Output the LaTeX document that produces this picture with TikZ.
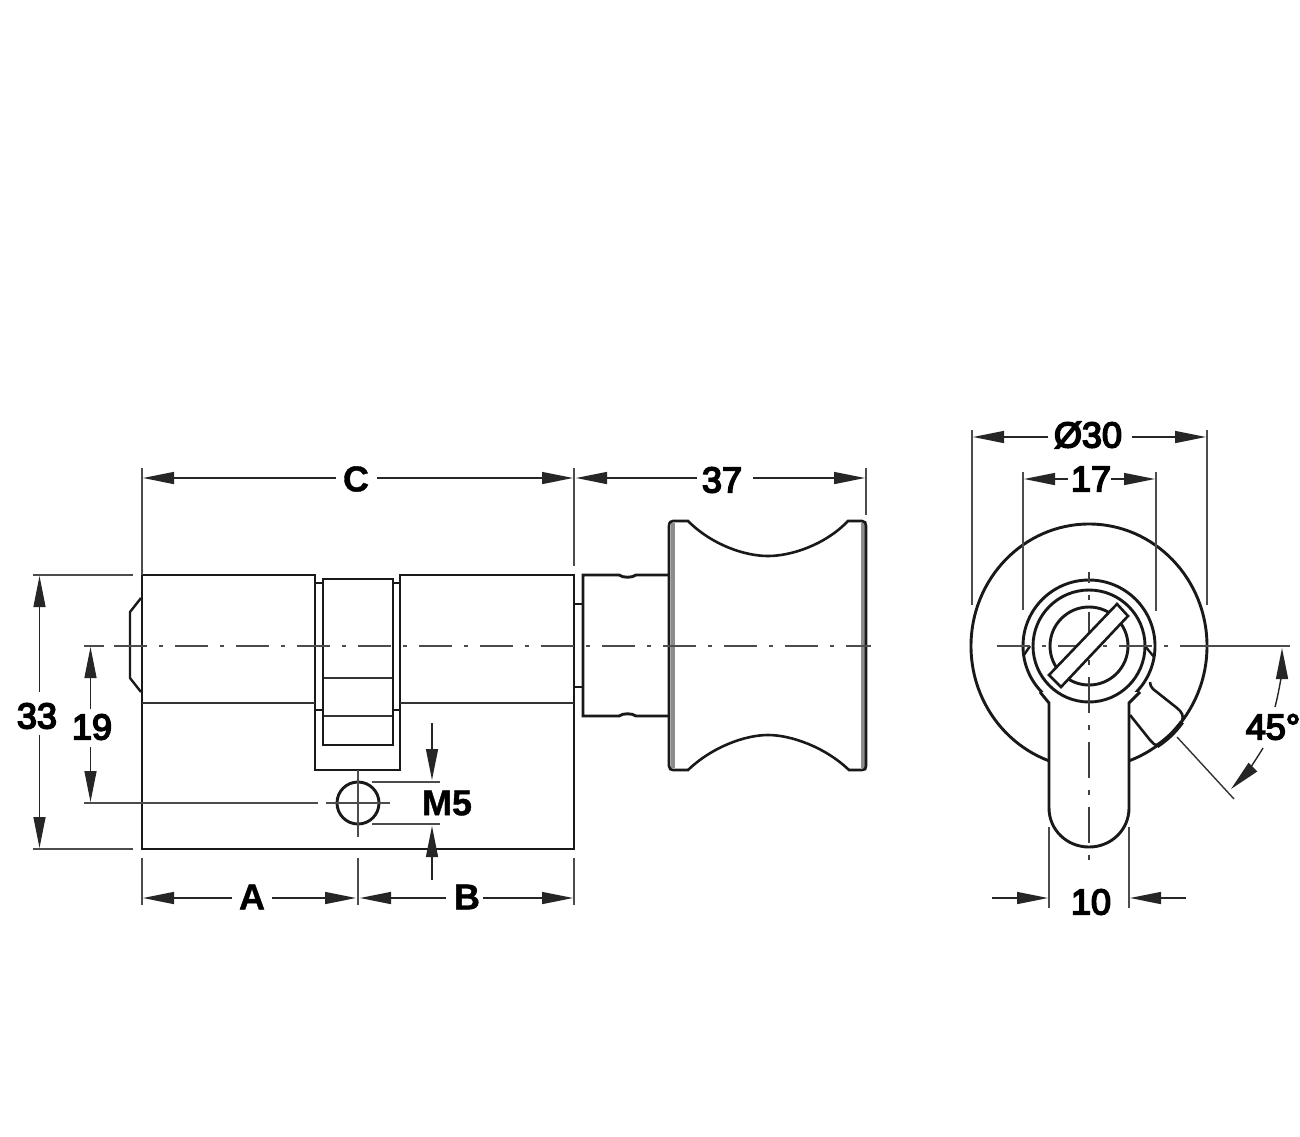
\documentclass[tikz,border=0pt]{standalone}
\usepackage{fontspec}
\setmainfont{Liberation Sans}
\newfontfamily\numfont{Liberation Sans}[RawFeature={embolden=4.5}]
\newfontfamily\boldfont{Liberation Sans Bold}[RawFeature={embolden=1}]
\usetikzlibrary{arrows.meta}
\tikzset{
  outline/.style={line width=2.9pt,black!90,line join=miter},
  thinline/.style={line width=1.4pt,black!80},
  extline/.style={line width=1.4pt,black!70},
  centerline/.style={line width=1.4pt,black!70,dash pattern=on 33pt off 12pt on 4pt off 12pt},
  centerv/.style={line width=1.4pt,black!75,dash pattern=on 36pt off 12pt on 5pt off 12pt,dash phase=25pt},
  dimline/.style={line width=1.4pt,black!85},
  dimarrow/.style={dimline,-{Triangle[length=31pt,width=12pt]}},
  numlabel/.style={inner sep=0pt,font=\numfont\fontsize{36}{36}\selectfont,text=black},
  letlabel/.style={inner sep=0pt,font=\boldfont\fontsize{36}{36}\selectfont,text=black}
}
\begin{document}
\begin{tikzpicture}[x=1pt,y=-1pt]
\useasboundingbox (0,0) rectangle (1300,1136);
\fill[white] (0,0) rectangle (1300,1136);

% ---------- side view: knob
\draw[line width=4pt,black!45] (673,523) -- (673,768);
\draw[line width=4pt,black!45] (863,523) -- (863,768);
\draw[outline,line width=2.6pt] (669,526) .. controls (669,522) and (671,521) .. (673,521) -- (688,521)
  .. controls (712,545) and (745,556) .. (768,556) .. controls (791,556) and (825,545) .. (848,521)
  -- (862,521) .. controls (865,521) and (866,523) .. (866,526) -- (866,766)
  .. controls (866,769) and (865,770) .. (862,770) -- (849,770)
  .. controls (825,747) and (791,735) .. (768,735) .. controls (745,735) and (712,747) .. (688,770)
  -- (673,770) .. controls (671,770) and (669,769) .. (669,766) -- cycle;
% shaft
\draw[outline] (669,575) -- (636,575) .. controls (632,578) and (623,578) .. (619,575) -- (583,575) -- (583,716)
  -- (619,716) .. controls (623,713) and (632,713) .. (636,716) -- (669,716);
\draw[outline] (574,604) -- (583,604) (574,687) -- (583,687);

% ---------- side view: body
\draw[outline] (142,575) -- (315,575) -- (315,770) -- (400,770) -- (400,575) -- (574,575) -- (574,849) -- (142,849) -- cycle;
\draw[outline] (323,579) rectangle (393,745);
\draw[outline] (315,583) -- (323,583) (393,583) -- (400,583) (315,710) -- (323,710) (393,710) -- (400,710);
\draw[thinline] (142,703) -- (315,703) (400,703) -- (574,703);
\draw[thinline] (324,678) -- (392,678) (324,716) -- (392,716);
\draw[outline,line width=2.4pt] (141,598) -- (130,612) -- (130,678) -- (141,692);
\draw[outline] (358,803) circle[radius=21];

% ---------- side view: centre lines
\draw[extline] (84,646) -- (104,646);
\draw[centerline] (114,646) -- (871,646);
\draw[extline] (84,803) -- (318,803) (326,803) -- (390,803);
\draw[extline] (358,770) -- (358,837);

% ---------- side view: extension lines
\draw[extline] (142,468) -- (142,575) (574,468) -- (574,566) (866,468) -- (866,515);
\draw[extline] (33,575) -- (133,575) (33,849) -- (133,849);
\draw[extline] (142,858) -- (142,905) (358,858) -- (358,905) (574,858) -- (574,905);
\draw[extline] (372,782) -- (440,782) (372,824) -- (440,824);

% ---------- front view
\draw[outline] (1089,646) circle[x radius=118,y radius=122];
\draw[outline,line width=2.6pt] (1150,682) .. controls (1150,685) and (1151,687) .. (1153,689) -- (1177,708)
  .. controls (1182,712) and (1184,716) .. (1182,721);
\draw[outline,line width=2.6pt] (1130,715) -- (1150,740) .. controls (1152,743) and (1155,745) .. (1158,746);
\draw[line width=4.6pt,black!90] (1182,722) .. controls (1174,733) and (1166,740) .. (1157,746);
\draw[outline,fill=white] (1089,646) circle[radius=66];
\draw[outline,fill=white] (1040,692) -- (1049,703) -- (1049,808) .. controls (1049,830) and (1067,847) .. (1089,847)
  .. controls (1111,847) and (1129,830) .. (1129,808) -- (1129,703) -- (1140,692);
\draw[outline,fill=white] (1089,646) circle[radius=56];
\draw[outline] (1089,646) circle[radius=39];
\draw[outline,line width=2.4pt] (1030,646) -- (1024,655) (1145,646) -- (1154,657);
\draw[centerline] (997,646) -- (1213,646);
\draw[extline] (1213,646) -- (1290,646);
\draw[centerv] (1089,572) -- (1089,860);
\draw[outline,fill=white,line width=2.6pt] (1117,604) -- (1128,616) -- (1061,687) -- (1049,675) -- cycle;

% ---------- front view: extension lines
\draw[extline] (972,430) -- (972,605) (1207,430) -- (1207,605);
\draw[extline] (1023,472) -- (1023,610) (1156,472) -- (1156,611);
\draw[extline] (1049,827) -- (1049,908) (1129,827) -- (1129,908);
\coordinate (e45a) at (1177,737); \coordinate (e45b) at (1234,799);
\draw[thinline] (e45a) -- (e45b);

% ---------- labels
\node[letlabel] (lC) at (356,479) {C};
\node[numlabel] (l37) at (722,480) {37};
\node[numlabel] (l33) at (37,716) {33};
\node[numlabel] (l19) at (92,727) {19};
\node[letlabel] (lM5) at (447,803) {M5};
\node[letlabel] (lA) at (252,897) {A};
\node[letlabel] (lB) at (467,897) {B};
\node[numlabel] (l30) at (1088,435) {Ø30};
\node[numlabel] (l17) at (1091,479) {17};
\node[numlabel] (l10) at (1091,902) {10};
\node[numlabel] (l45) at (1273,727) {45°};

% ---------- dimension arrows
\coordinate (cL) at (336,478); \coordinate (cR) at (377,478);
\coordinate (cT1) at (143,478); \coordinate (cT2) at (573,478);
\draw[dimarrow] (cL) -- (cT1); \draw[dimarrow] (cR) -- (cT2);
\coordinate (s1) at (697,478); \coordinate (s2) at (753,478);
\coordinate (sT1) at (576,478); \coordinate (sT2) at (865,478);
\draw[dimarrow] (s1) -- (sT1); \draw[dimarrow] (s2) -- (sT2);
\coordinate (t1) at (39.5,692); \coordinate (t2) at (39.5,735);
\coordinate (tT1) at (39.5,576); \coordinate (tT2) at (39.5,848);
\draw[dimarrow] (t1) -- (tT1); \draw[dimarrow] (t2) -- (tT2);
\coordinate (n1) at (90.5,709); \coordinate (n2) at (90.5,747);
\coordinate (nT1) at (90.5,647); \coordinate (nT2) at (90.5,802);
\draw[dimarrow] (n1) -- (nT1); \draw[dimarrow] (n2) -- (nT2);
\coordinate (a1) at (232,898); \coordinate (a2) at (272,898);
\coordinate (aT1) at (143,898); \coordinate (aT2) at (356,898);
\draw[dimarrow] (a1) -- (aT1); \draw[dimarrow] (a2) -- (aT2);
\coordinate (b1) at (446,898); \coordinate (b2) at (483,898);
\coordinate (bT1) at (360,898); \coordinate (bT2) at (573,898);
\draw[dimarrow] (b1) -- (bT1); \draw[dimarrow] (b2) -- (bT2);
\coordinate (m1) at (432,723); \coordinate (mT1) at (432,780);
\coordinate (m2) at (432,880); \coordinate (mT2) at (432,826);
\draw[dimarrow] (m1) -- (mT1); \draw[dimarrow] (m2) -- (mT2);
\coordinate (o1) at (1048,437); \coordinate (o2) at (1132,437);
\coordinate (oT1) at (973,437); \coordinate (oT2) at (1206,437);
\draw[dimarrow] (o1) -- (oT1); \draw[dimarrow] (o2) -- (oT2);
\coordinate (u1) at (1068,479); \coordinate (u2) at (1111,479);
\coordinate (uT1) at (1024,479); \coordinate (uT2) at (1155,479);
\draw[dimarrow] (u1) -- (uT1); \draw[dimarrow] (u2) -- (uT2);
\coordinate (w1) at (992,898); \coordinate (wT1) at (1048,898);
\coordinate (w2) at (1186,898); \coordinate (wT2) at (1130,898);
\draw[dimarrow] (w1) -- (wT1); \draw[dimarrow] (w2) -- (wT2);
\coordinate (d1) at (1275,707); \coordinate (dT1) at (1282,648);
\coordinate (d2) at (1263,748); \coordinate (dT2) at (1231,789);
\draw[dimarrow] (d1) .. controls (1280,688) and (1282,668) .. (dT1);
\draw[dimarrow] (d2) .. controls (1254,763) and (1244,776) .. (dT2);
\end{tikzpicture}
\end{document}
